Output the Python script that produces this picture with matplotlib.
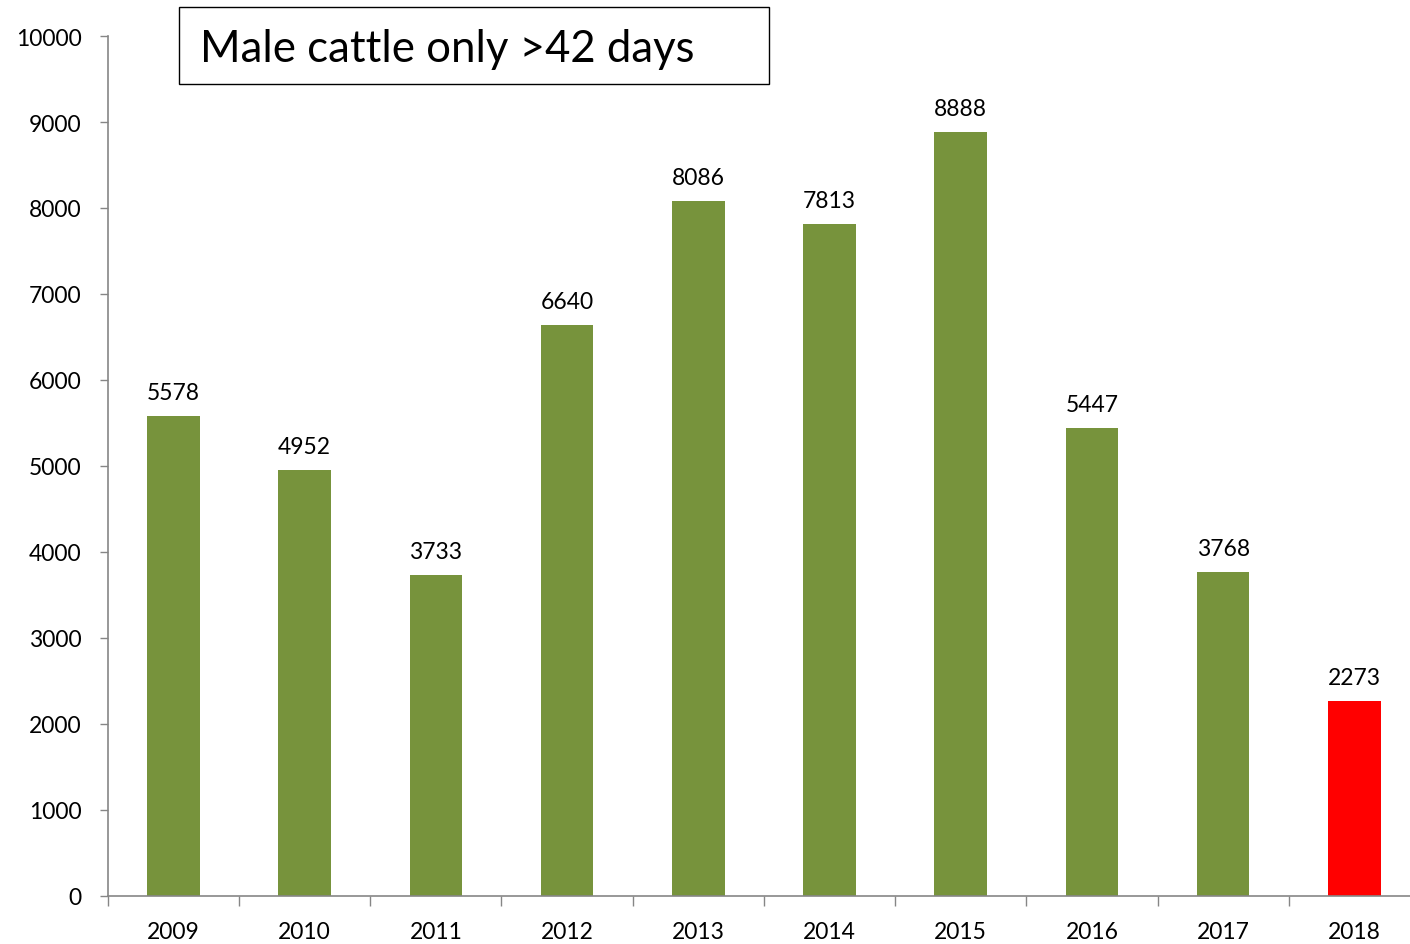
import matplotlib
matplotlib.use("Agg")
import matplotlib.pyplot as plt
from matplotlib import patches as mpatches
import numpy as np

plt.rcParams['font.family'] = ['Lato', 'DejaVu Sans']

years = ['2009', '2010', '2011', '2012', '2013', '2014', '2015', '2016', '2017', '2018']
counts = [5578, 4952, 3733, 6640, 8086, 7813, 8888, 5447, 3768, 2273]
bar_colors = ['#77933C'] * 9 + ['#FF0000']
title = 'Male cattle only >42 days'

fig = plt.figure(figsize=(14.1, 9.45), dpi=100)
ax = fig.add_axes([107.75 / 1410, 1 - 897 / 945, (1420 - 107.75) / 1410, (897 - 37) / 945])

x = np.arange(len(years))
ax.bar(x, counts, width=0.40, color=bar_colors, zorder=2)
for xi, v in zip(x, counts):
    ax.text(xi, v + 150, str(v), ha='center', va='bottom', fontsize=16.5)

ax.set_xlim(-0.5, len(years) - 0.5)
ax.set_ylim(0, 10000)
ax.set_yticks(np.arange(0, 10001, 1000))
ax.tick_params(axis='y', labelsize=16.5, color='#868686', length=6, width=1, pad=13)

ax.set_xticks(x)
ax.set_xticklabels(years, fontsize=16.5)
ax.set_xticks(np.arange(-0.5, len(years), 1.0), minor=True)
ax.tick_params(axis='x', which='major', length=0, pad=18)
ax.tick_params(axis='x', which='minor', length=7, color='#868686', width=1)

for side in ['top', 'right']:
    ax.spines[side].set_visible(False)
for side in ['left', 'bottom']:
    ax.spines[side].set_color('#868686')
    ax.spines[side].set_linewidth(1.2)

# title box
box = mpatches.Rectangle((179 / 1410, 1 - 85 / 945), 590 / 1410, 77 / 945,
                         transform=fig.transFigure, facecolor='white',
                         edgecolor='black', linewidth=1)
fig.patches.append(box)
fig.text(200 / 1410, 1 - 50 / 945, title, fontsize=31.5, va='center', ha='left')

fig.savefig('out.png', dpi=100)
